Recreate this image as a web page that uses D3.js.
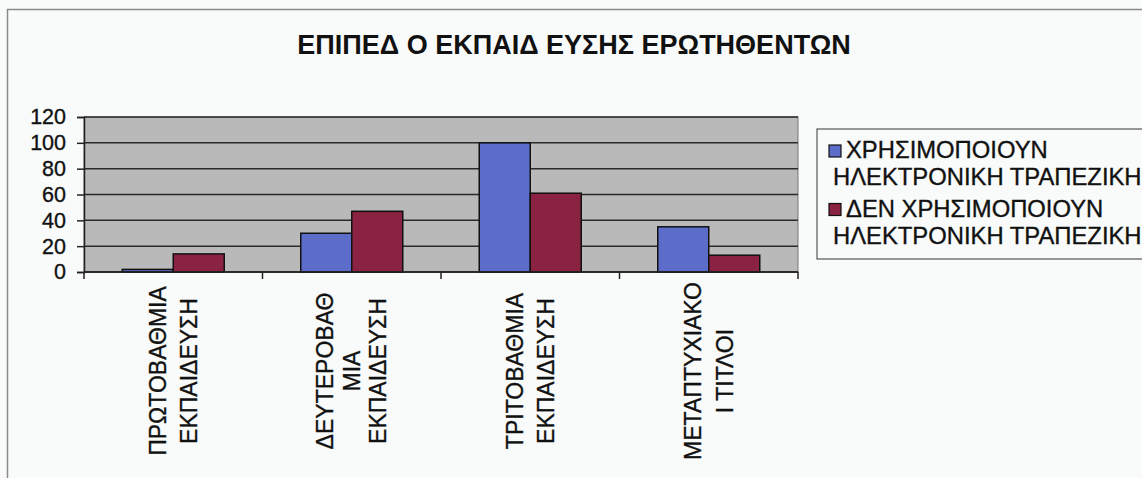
<!DOCTYPE html>
<html><head><meta charset="utf-8">
<script src="https://cdn.jsdelivr.net/npm/d3@7"></script>
<style>
html,body{margin:0;padding:0;background:#f9fbfb;}
text{font-family:"Liberation Sans",Arial,sans-serif;fill:#111;}
.lbl{stroke:#111;stroke-width:0.35px;}
</style></head><body>
<svg id="c" width="1142" height="478"></svg>
<script>
const title = "ΕΠΙΠΕΔ Ο ΕΚΠΑΙΔ ΕΥΣΗΣ ΕΡΩΤΗΘΕΝΤΩΝ";
const categories = [
  ["ΠΡΩΤΟΒΑΘΜΙΑ","ΕΚΠΑΙΔΕΥΣΗ"],
  ["ΔΕΥΤΕΡΟΒΑΘ","ΜΙΑ","ΕΚΠΑΙΔΕΥΣΗ"],
  ["ΤΡΙΤΟΒΑΘΜΙΑ","ΕΚΠΑΙΔΕΥΣΗ"],
  ["ΜΕΤΑΠΤΥΧΙΑΚΟ","Ι ΤΙΤΛΟΙ"]
];
const seriesNames = [
  ["ΧΡΗΣΙΜΟΠΟΙΟΥΝ","ΗΛΕΚΤΡΟΝΙΚΗ ΤΡΑΠΕΖΙΚΗ"],
  ["ΔΕΝ ΧΡΗΣΙΜΟΠΟΙΟΥΝ","ΗΛΕΚΤΡΟΝΙΚΗ ΤΡΑΠΕΖΙΚΗ"]
];
const useValues = [2, 30, 100, 35];
const notUseValues = [14, 47, 61, 13];
const yTicks = [0, 20, 40, 60, 80, 100, 120];
const colors = ["#5b6cc9", "#8a2242"];

const svg = d3.select("#c");
// outer frame
svg.append("rect").attr("x",7.5).attr("y",9.5).attr("width",1160).attr("height",500)
  .attr("fill","none").attr("stroke","#8a8a8a").attr("stroke-width",1.5);

const L=84, R=798, T=117, B=272;
const x = d3.scaleBand().domain(d3.range(categories.length)).range([L,R]).paddingInner(0).paddingOuter(0);
const gap = 1.5;
const barW = x.bandwidth()/(2+gap);
const y = d3.scaleLinear().domain([0,120]).range([B,T]);

// plot area
svg.append("rect").attr("x",L).attr("y",T).attr("width",R-L).attr("height",B-T)
  .attr("fill","#b9b9b9").attr("stroke","#777").attr("stroke-width",1);
// gridlines
svg.append("g").selectAll("line").data(yTicks).join("line")
  .attr("x1",L).attr("x2",R).attr("y1",d=>y(d)).attr("y2",d=>y(d))
  .attr("stroke","#2a2a2a").attr("stroke-width",1.5);

// y axis
const ya = svg.append("g").attr("transform",`translate(${L},0)`)
  .call(d3.axisLeft(y).tickValues(yTicks).tickSize(7).tickPadding(11));
ya.select(".domain").attr("stroke","#222").attr("stroke-width",1.5);
ya.selectAll(".tick line").attr("stroke","#222").attr("stroke-width",1.5);
ya.selectAll("text").attr("font-size",21.5).attr("fill","#111").attr("class","lbl")
  .attr("font-family","Liberation Sans, Arial, sans-serif");

// bars
const series = [useValues, notUseValues];
series.forEach((vals,si)=>{
  svg.append("g").selectAll("rect").data(vals).join("rect")
    .attr("x",(d,i)=>x(i)+barW*gap/2+si*barW)
    .attr("y",d=>y(d)).attr("width",barW).attr("height",d=>y(0)-y(d))
    .attr("fill",colors[si]).attr("stroke","#111").attr("stroke-width",1.5);
});

// x axis
svg.append("line").attr("x1",L).attr("x2",R).attr("y1",B).attr("y2",B)
  .attr("stroke","#222").attr("stroke-width",1.5);
const bounds = d3.range(categories.length+1).map(i=> i<categories.length ? x(i) : R);
svg.append("g").selectAll("line").data(bounds).join("line")
  .attr("x1",d=>d).attr("x2",d=>d).attr("y1",B).attr("y2",B+7)
  .attr("stroke","#222").attr("stroke-width",1.5);

// x labels rotated
categories.forEach((lines,i)=>{
  const cx = x(i)+x.bandwidth()/2;
  const sp = lines.length===3 ? 26.5 : 31.5;
  lines.forEach((ln,j)=>{
    const off = (j-(lines.length-1)/2)*sp;
    svg.append("text").attr("class","lbl").attr("transform",`translate(${cx+off+8},371) rotate(-90)`)
      .attr("text-anchor","middle").attr("font-size",23).text(ln);
  });
});

// title
svg.append("text").attr("x",574).attr("y",54).attr("text-anchor","middle")
  .attr("font-size",27).attr("font-weight","bold").text(title);

// legend
svg.append("rect").attr("x",817).attr("y",129).attr("width",400).attr("height",130)
  .attr("fill","none").attr("stroke","#555").attr("stroke-width",1.2);
seriesNames.forEach((lines,si)=>{
  const y0 = 158 + si*58.5;
  svg.append("rect").attr("x",829).attr("y",y0-13).attr("width",12).attr("height",12)
    .attr("fill",colors[si]).attr("stroke","#111").attr("stroke-width",1.2);
  svg.append("text").attr("class","lbl").attr("x",846).attr("y",y0).attr("font-size",23.8).text(lines[0]);
  svg.append("text").attr("class","lbl").attr("x",833).attr("y",y0+27).attr("font-size",23.8).text(lines[1]);
});
</script>
</body></html>
